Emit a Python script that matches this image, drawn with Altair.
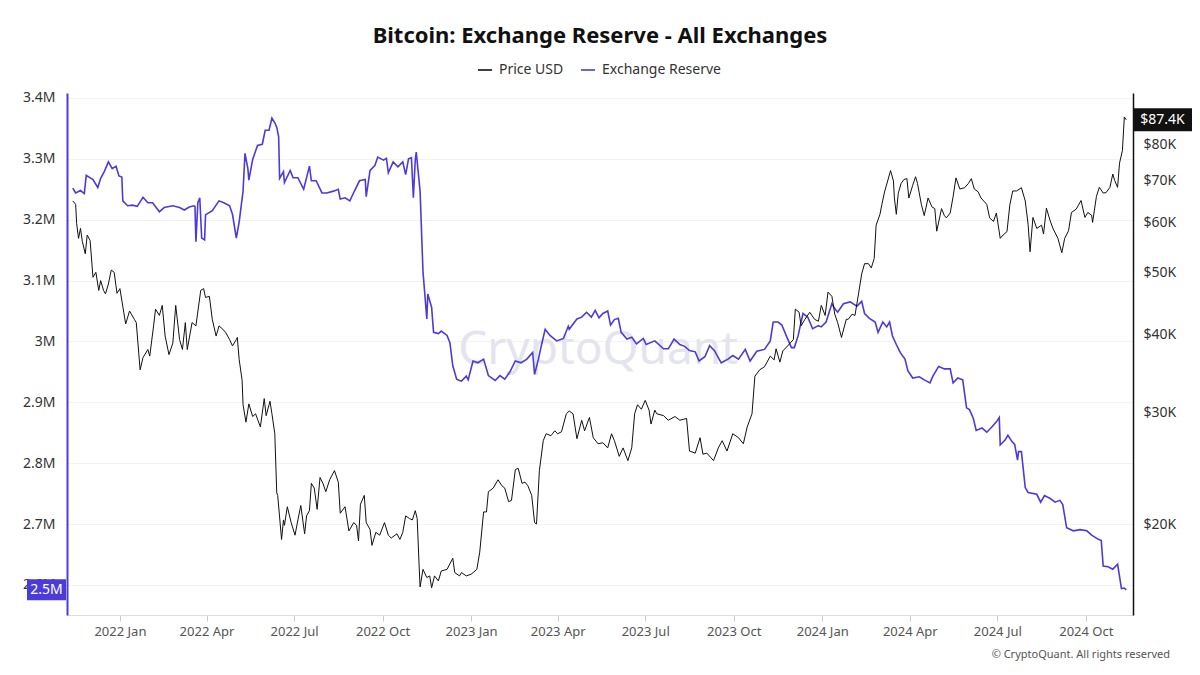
import altair as alt
import pandas as pd

FONT = "Noto Sans"
PURPLE = "#4c3bdb"
BLACK = "#111111"
W, H = 1066, 522

# ---------------- data ----------------
R_DATES = [
    "2021-11-13", "2021-11-16", "2021-11-21", "2021-11-25", "2021-11-27", "2021-12-04", "2021-12-09",
    "2021-12-12", "2021-12-16", "2021-12-20", "2021-12-24", "2021-12-28", "2021-12-31",
    "2022-01-03", "2022-01-04", "2022-01-09", "2022-01-14", "2022-01-19", "2022-01-25", "2022-01-30",
    "2022-02-04", "2022-02-11", "2022-02-16", "2022-02-25", "2022-03-04", "2022-03-09", "2022-03-14",
    "2022-03-19", "2022-03-20", "2022-03-21", "2022-03-23", "2022-03-25", "2022-03-27", "2022-03-30",
    "2022-03-31", "2022-04-07", "2022-04-14", "2022-04-19", "2022-04-25", "2022-04-28", "2022-05-02",
    "2022-05-05", "2022-05-09", "2022-05-11", "2022-05-14", "2022-05-15", "2022-05-19", "2022-05-24",
    "2022-05-29", "2022-06-01", "2022-06-05", "2022-06-08", "2022-06-11", "2022-06-13", "2022-06-15",
    "2022-06-16", "2022-06-20", "2022-06-21", "2022-06-27", "2022-06-30", "2022-07-05", "2022-07-11",
    "2022-07-17", "2022-07-19", "2022-07-24", "2022-07-30", "2022-08-04", "2022-08-11", "2022-08-16",
    "2022-08-18", "2022-08-23", "2022-08-28", "2022-09-02", "2022-09-07", "2022-09-13", "2022-09-14",
    "2022-09-18", "2022-09-23", "2022-09-26", "2022-10-02", "2022-10-05", "2022-10-07", "2022-10-12",
    "2022-10-17", "2022-10-22", "2022-10-25", "2022-10-28", "2022-10-31", "2022-11-02", "2022-11-04",
    "2022-11-05", "2022-11-09", "2022-11-12", "2022-11-16", "2022-11-17", "2022-11-21", "2022-11-23",
    "2022-11-28", "2022-12-01", "2022-12-07", "2022-12-10", "2022-12-13", "2022-12-17", "2022-12-20",
    "2022-12-22", "2022-12-27", "2022-12-29",
    "2023-01-03", "2023-01-08", "2023-01-14", "2023-01-19", "2023-01-26", "2023-01-31", "2023-02-05",
    "2023-02-10", "2023-02-16", "2023-02-22", "2023-02-28", "2023-03-06", "2023-03-08", "2023-03-12",
    "2023-03-15", "2023-03-19", "2023-03-24", "2023-03-31", "2023-04-07", "2023-04-12", "2023-04-13",
    "2023-04-21", "2023-04-26", "2023-05-01", "2023-05-06", "2023-05-10", "2023-05-14", "2023-05-18",
    "2023-05-23", "2023-05-26", "2023-05-30", "2023-06-03", "2023-06-06", "2023-06-12", "2023-06-17",
    "2023-06-22", "2023-06-29", "2023-07-02", "2023-07-11", "2023-07-20", "2023-07-25", "2023-07-31",
    "2023-08-06", "2023-08-11", "2023-08-16", "2023-08-22", "2023-08-26", "2023-09-01", "2023-09-06",
    "2023-09-11", "2023-09-18", "2023-09-25", "2023-09-30", "2023-10-06", "2023-10-13", "2023-10-18",
    "2023-10-25", "2023-11-02", "2023-11-08", "2023-11-11", "2023-11-16", "2023-11-20", "2023-11-25",
    "2023-11-30", "2023-12-03", "2023-12-07", "2023-12-12", "2023-12-17", "2023-12-22", "2023-12-28",
    "2023-12-31",
    "2024-01-05", "2024-01-11", "2024-01-14", "2024-01-17", "2024-01-23", "2024-01-30", "2024-02-06",
    "2024-02-11", "2024-02-14", "2024-02-19", "2024-02-25", "2024-02-28", "2024-03-04", "2024-03-08",
    "2024-03-11", "2024-03-14", "2024-03-18", "2024-03-22", "2024-03-27", "2024-03-30", "2024-04-04",
    "2024-04-11", "2024-04-16", "2024-04-22", "2024-04-25", "2024-05-01", "2024-05-07", "2024-05-13",
    "2024-05-16", "2024-05-21", "2024-05-26", "2024-05-30", "2024-06-02", "2024-06-06", "2024-06-09",
    "2024-06-15", "2024-06-20", "2024-06-25", "2024-06-30", "2024-07-03", "2024-07-04", "2024-07-09",
    "2024-07-12", "2024-07-16", "2024-07-19", "2024-07-22", "2024-07-23", "2024-07-26", "2024-07-30",
    "2024-08-02", "2024-08-11", "2024-08-15", "2024-08-19", "2024-08-25", "2024-08-30", "2024-09-04",
    "2024-09-07", "2024-09-11", "2024-09-18", "2024-09-25", "2024-10-02", "2024-10-07", "2024-10-14",
    "2024-10-17", "2024-10-19", "2024-10-24", "2024-10-29", "2024-11-03", "2024-11-07", "2024-11-10",
    "2024-11-12",
]
# exchange reserve, millions of BTC
R_VALUES = [
    3.252, 3.244, 3.248, 3.243, 3.273, 3.266, 3.253, 3.268, 3.280, 3.295, 3.284, 3.288, 3.272,
    3.270, 3.231, 3.223, 3.224, 3.222, 3.237, 3.228, 3.228, 3.213, 3.220, 3.223, 3.220, 3.216, 3.221,
    3.223, 3.222, 3.164, 3.228, 3.236, 3.170, 3.167, 3.208, 3.215, 3.231, 3.228, 3.223, 3.209, 3.170,
    3.197, 3.247, 3.309, 3.284, 3.265, 3.299, 3.322, 3.324, 3.347, 3.347, 3.367, 3.359, 3.352, 3.336,
    3.268, 3.279, 3.261, 3.281, 3.269, 3.269, 3.250, 3.288, 3.264, 3.264, 3.244, 3.244, 3.247, 3.250,
    3.234, 3.236, 3.231, 3.248, 3.264, 3.266, 3.238, 3.281, 3.289, 3.303, 3.298, 3.301, 3.277, 3.295,
    3.287, 3.295, 3.274, 3.300, 3.302, 3.236, 3.299, 3.311, 3.247, 3.115, 3.037, 3.078, 3.056, 3.015,
    3.013, 3.017, 3.010, 2.998, 2.960, 2.938, 2.936, 2.935, 2.943, 2.937,
    2.968, 2.965, 2.971, 2.944, 2.936, 2.944, 2.938, 2.949, 2.968, 2.965, 2.971, 2.982, 2.946, 2.971,
    2.993, 3.020, 3.010, 3.001, 3.005, 3.025, 3.020, 3.037, 3.040, 3.048, 3.040, 3.051, 3.039, 3.046,
    3.050, 3.027, 3.036, 3.038, 3.015, 3.004, 3.007, 2.996, 3.005, 2.995, 3.001, 2.988, 2.988, 3.004,
    2.995, 2.992, 2.985, 2.983, 2.968, 2.975, 2.993, 2.985, 2.965, 2.971, 2.977, 2.971, 2.987, 2.968,
    2.984, 2.987, 3.001, 3.032, 3.032, 3.027, 3.008, 2.990, 2.990, 3.010, 3.046, 3.040, 3.021, 3.026,
    3.024,
    3.032, 3.062, 3.054, 3.048, 3.062, 3.065, 3.058, 3.066, 3.046, 3.038, 3.032, 3.015, 3.032, 3.024,
    3.032, 3.009, 2.995, 2.982, 2.971, 2.952, 2.940, 2.942, 2.937, 2.932, 2.943, 2.959, 2.955, 2.955,
    2.932, 2.940, 2.937, 2.891, 2.888, 2.874, 2.854, 2.858, 2.851, 2.859, 2.868, 2.875, 2.830, 2.838,
    2.846, 2.836, 2.831, 2.805, 2.819, 2.819, 2.760, 2.752, 2.749, 2.736, 2.747, 2.742, 2.736, 2.739,
    2.732, 2.694, 2.689, 2.691, 2.689, 2.682, 2.675, 2.673, 2.631, 2.630, 2.626, 2.634, 2.594, 2.595,
    2.592,
]

P_DATES = [
    "2021-11-13", "2021-11-16", "2021-11-17", "2021-11-19", "2021-11-21", "2021-11-23", "2021-11-26",
    "2021-11-28", "2021-12-01", "2021-12-04", "2021-12-07", "2021-12-10", "2021-12-12", "2021-12-15",
    "2021-12-17", "2021-12-20", "2021-12-23", "2021-12-26", "2021-12-29",
    "2022-01-01", "2022-01-05", "2022-01-07", "2022-01-11", "2022-01-16", "2022-01-18", "2022-01-22",
    "2022-01-25", "2022-01-30", "2022-02-01", "2022-02-05", "2022-02-07", "2022-02-11", "2022-02-14",
    "2022-02-17", "2022-02-21", "2022-02-25", "2022-02-28", "2022-03-04", "2022-03-07", "2022-03-10",
    "2022-03-12", "2022-03-17", "2022-03-21", "2022-03-26", "2022-03-29", "2022-03-31", "2022-04-04",
    "2022-04-07", "2022-04-11", "2022-04-14", "2022-04-18", "2022-04-21", "2022-04-25", "2022-04-28",
    "2022-05-02", "2022-05-03", "2022-05-05", "2022-05-08", "2022-05-09", "2022-05-12", "2022-05-15",
    "2022-05-19", "2022-05-22", "2022-05-27", "2022-05-31", "2022-06-02", "2022-06-06", "2022-06-08",
    "2022-06-11", "2022-06-13", "2022-06-14", "2022-06-18", "2022-06-20", "2022-06-21", "2022-06-24",
    "2022-06-28", "2022-07-02", "2022-07-05", "2022-07-08", "2022-07-12", "2022-07-14", "2022-07-17",
    "2022-07-19", "2022-07-22", "2022-07-25", "2022-07-28", "2022-07-31", "2022-08-03", "2022-08-07",
    "2022-08-12", "2022-08-16", "2022-08-18", "2022-08-23", "2022-08-27", "2022-09-01", "2022-09-04",
    "2022-09-06", "2022-09-08", "2022-09-12", "2022-09-14", "2022-09-18", "2022-09-20", "2022-09-24",
    "2022-09-28", "2022-10-03", "2022-10-07", "2022-10-10", "2022-10-16", "2022-10-19", "2022-10-22",
    "2022-10-25", "2022-10-29", "2022-11-01", "2022-11-04", "2022-11-06", "2022-11-08", "2022-11-09",
    "2022-11-12", "2022-11-16", "2022-11-19", "2022-11-21", "2022-11-24", "2022-11-28", "2022-12-01",
    "2022-12-07", "2022-12-13", "2022-12-15", "2022-12-20", "2022-12-22", "2022-12-27",
    "2023-01-01", "2023-01-07", "2023-01-10", "2023-01-14", "2023-01-17", "2023-01-19", "2023-01-24",
    "2023-01-29", "2023-02-02", "2023-02-05", "2023-02-09", "2023-02-12", "2023-02-16", "2023-02-19",
    "2023-02-23", "2023-02-26", "2023-03-01", "2023-03-05", "2023-03-08", "2023-03-10", "2023-03-13",
    "2023-03-17", "2023-03-20", "2023-03-25", "2023-03-29", "2023-04-01", "2023-04-05", "2023-04-10",
    "2023-04-13", "2023-04-17", "2023-04-21", "2023-04-26", "2023-04-29", "2023-05-04", "2023-05-08",
    "2023-05-13", "2023-05-18", "2023-05-23", "2023-05-27", "2023-05-30", "2023-06-04", "2023-06-08",
    "2023-06-13", "2023-06-17", "2023-06-20", "2023-06-23", "2023-06-27", "2023-07-01", "2023-07-05",
    "2023-07-07", "2023-07-11", "2023-07-13", "2023-07-20", "2023-07-25", "2023-08-01", "2023-08-06",
    "2023-08-13", "2023-08-16", "2023-08-22", "2023-08-27", "2023-08-30", "2023-09-03", "2023-09-07",
    "2023-09-10", "2023-09-15", "2023-09-19", "2023-09-24", "2023-09-30", "2023-10-06", "2023-10-11",
    "2023-10-15", "2023-10-20", "2023-10-23", "2023-10-28", "2023-11-02", "2023-11-08", "2023-11-12",
    "2023-11-14", "2023-11-18", "2023-11-21", "2023-11-26", "2023-12-02", "2023-12-04", "2023-12-08",
    "2023-12-10", "2023-12-14", "2023-12-19", "2023-12-24", "2023-12-28", "2023-12-31",
    "2024-01-04", "2024-01-07", "2024-01-11", "2024-01-14", "2024-01-17", "2024-01-21", "2024-01-26",
    "2024-01-28", "2024-02-01", "2024-02-04", "2024-02-08", "2024-02-11", "2024-02-14", "2024-02-18",
    "2024-02-21", "2024-02-24", "2024-02-26", "2024-03-01", "2024-03-03", "2024-03-06", "2024-03-09",
    "2024-03-12", "2024-03-15", "2024-03-16", "2024-03-18", "2024-03-20", "2024-03-23", "2024-03-26",
    "2024-03-29", "2024-03-31", "2024-04-04", "2024-04-07", "2024-04-09", "2024-04-13", "2024-04-16",
    "2024-04-20", "2024-04-24", "2024-04-27", "2024-04-29", "2024-05-04", "2024-05-07", "2024-05-09",
    "2024-05-13", "2024-05-16", "2024-05-19", "2024-05-23", "2024-05-28", "2024-06-01", "2024-06-04",
    "2024-06-07", "2024-06-11", "2024-06-14", "2024-06-20", "2024-06-23", "2024-06-27", "2024-06-30",
    "2024-07-04", "2024-07-07", "2024-07-11", "2024-07-14", "2024-07-17", "2024-07-21", "2024-07-26",
    "2024-07-30", "2024-08-02", "2024-08-04", "2024-08-07", "2024-08-11", "2024-08-16", "2024-08-18",
    "2024-08-21", "2024-08-25", "2024-08-28", "2024-09-02", "2024-09-06", "2024-09-09", "2024-09-13",
    "2024-09-16", "2024-09-21", "2024-09-26", "2024-09-30", "2024-10-03", "2024-10-07", "2024-10-08",
    "2024-10-12", "2024-10-15", "2024-10-19", "2024-10-22", "2024-10-26", "2024-10-29", "2024-10-31",
    "2024-11-03", "2024-11-05", "2024-11-08", "2024-11-10", "2024-11-12",
]
# BTC price, thousands of USD
P_VALUES = [
    65.0, 64.2, 59.9, 56.7, 58.8, 56.0, 53.6, 57.4, 56.3, 49.2, 50.1, 46.9, 48.6, 46.9,
    46.3, 48.0, 50.5, 50.1, 46.4,
    47.2, 43.3, 41.5, 43.5, 42.2, 41.7, 35.1, 36.7, 37.8, 36.9, 41.2, 43.8, 42.8, 44.4,
    39.7, 37.1, 38.7, 44.4, 39.2, 37.8, 41.7, 37.8, 41.7, 41.2, 46.9, 47.2, 45.7, 45.9,
    42.2, 39.7, 41.2, 40.7, 40.2, 39.2, 38.3, 39.2, 39.5, 36.4, 33.8, 30.9, 29.0, 31.0,
    29.6, 29.9, 28.5, 31.6, 29.7, 31.3, 29.9, 27.8, 22.4, 22.2, 18.9, 20.3, 19.9, 21.3,
    20.1, 19.2, 20.3, 21.4, 19.3, 20.6, 21.0, 23.2, 22.8, 21.1, 23.7, 23.2, 22.5, 23.5,
    24.3, 23.3, 20.8, 21.3, 19.5, 20.1, 19.9, 18.8, 21.5, 22.2, 20.1, 19.6, 18.5, 19.4,
    19.2, 20.1, 19.2, 19.0, 19.3, 18.9, 19.4, 20.6, 20.4, 20.3, 21.0, 20.4, 17.15, 15.9,
    16.95, 16.45, 16.55, 15.85, 16.55, 16.25, 16.85, 16.95, 17.65, 16.75, 16.55, 16.75, 16.55,
    16.65, 16.95, 18.05, 20.9, 20.9, 22.5, 22.8, 23.5, 23.0, 22.8, 21.7, 21.8, 24.4, 24.5,
    23.2, 23.3, 23.0, 22.2, 20.1, 20.0, 24.3, 27.1, 27.8, 27.6, 28.1, 27.8, 28.0, 29.9,
    30.2, 29.9, 27.3, 29.2, 28.1, 29.5, 27.4, 26.8, 26.9, 26.4, 27.8, 27.1, 25.6, 26.4,
    25.2, 26.4, 29.9, 30.9, 30.4, 31.4, 30.3, 28.8, 30.3, 29.9, 29.7, 29.2, 29.6, 29.2,
    29.4, 26.1, 25.9, 27.4, 25.8, 25.9, 25.5, 25.2, 26.4, 27.1, 26.1, 27.8, 27.4, 26.8,
    28.5, 29.9, 34.3, 35.1, 35.5, 36.9, 36.4, 37.9, 36.1, 37.6, 38.3, 39.2, 43.8, 43.3,
    41.2, 42.2, 43.3, 42.2, 41.9, 44.4,
    42.8, 46.6, 45.9, 43.0, 41.7, 39.5, 42.2, 42.2, 43.0, 42.8, 46.6, 49.8, 51.7, 51.7,
    50.9, 52.7, 59.5, 61.9, 64.2, 67.4, 69.9, 72.6, 69.9, 65.7, 61.9, 66.8, 69.3, 70.3,
    70.5, 65.7, 68.8, 71.0, 69.3, 64.2, 61.6, 65.7, 63.6, 63.2, 58.2, 63.2, 61.6, 61.1,
    62.2, 66.0, 70.7, 67.9, 68.2, 69.3, 70.5, 67.9, 67.2, 65.7, 64.2, 61.1, 60.3, 62.2,
    56.7, 57.4, 58.1, 64.1, 67.4, 67.4, 68.2, 65.0, 59.6, 54.0, 61.2, 58.8, 59.5, 57.6,
    63.3, 60.4, 58.7, 56.7, 53.8, 56.7, 58.3, 62.3, 63.1, 65.1, 61.2, 62.3, 61.7, 60.1,
    66.1, 68.3, 66.9, 67.0, 68.3, 71.7, 70.0, 68.3, 74.6, 78.1, 88.3, 87.4,
]

SERIES = ["Price USD", "Exchange Reserve"]
RES_TICKS = [2600000, 2700000, 2800000, 2900000, 3000000, 3100000, 3200000, 3300000, 3400000]
PRICE_TICKS = [20000, 30000, 40000, 50000, 60000, 70000, 80000]
X_TICKS = [(2022, 1), (2022, 4), (2022, 7), (2022, 10), (2023, 1), (2023, 4), (2023, 7),
           (2023, 10), (2024, 1), (2024, 4), (2024, 7), (2024, 10)]
TITLE = "Bitcoin: Exchange Reserve - All Exchanges"
WATERMARK = "CryptoQuant"
FOOTER = "© CryptoQuant. All rights reserved"

# ---------------- frames ----------------
res_df = pd.DataFrame({"date": R_DATES, "reserve": [v * 1e6 for v in R_VALUES], "series": SERIES[1]})
price_df = pd.DataFrame({"date": P_DATES, "price": [v * 1e3 for v in P_VALUES], "series": SERIES[0]})

res_last = res_df.tail(1).copy()
res_last["label"] = [f"{int(v // 1e5) / 10}M" for v in res_last["reserve"]]
price_last = price_df.tail(1).copy()
price_last["label"] = [f"${v / 1000:.1f}K" for v in price_last["price"]]

# ---------------- scales ----------------
x_scale = alt.Scale(
    type="utc",
    domain=[alt.DateTime(year=2021, month=11, date=7, utc=True),
            alt.DateTime(year=2024, month=11, date=19, utc=True)],
)
x_vals = [alt.DateTime(year=y, month=m, date=1, utc=True) for y, m in X_TICKS]
RES_DOMAIN = [2550700, 3408200]
PRICE_DOMAIN = [14350, 96360]
color_scale = alt.Scale(domain=SERIES, range=[BLACK, PURPLE])


def res_scale():
    return alt.Scale(domain=RES_DOMAIN, nice=False, zero=False)


def price_scale():
    return alt.Scale(type="log", domain=PRICE_DOMAIN, nice=False)


def x_axis():
    return alt.Axis(
        values=x_vals, format="%Y %b", title=None, grid=False,
        domainColor="#dddddd", tickColor="#cccccc", tickSize=6, labelFontSize=13,
        labelColor="#555555", labelFont=FONT, labelPadding=4,
    )


legend = alt.Legend(
    orient="none", legendX=410, legendY=-31, direction="horizontal", title=None,
    symbolType="stroke", symbolSize=200, symbolStrokeWidth=1.6, labelFontSize=14,
    labelColor="#333333", labelFont=FONT, columnPadding=13, labelOffset=6,
)

# ---------------- reserve ----------------
res_line = alt.Chart(res_df).mark_line(strokeWidth=1.6).encode(
    x=alt.X("date:T", scale=x_scale, axis=x_axis()),
    y=alt.Y("reserve:Q", scale=res_scale(), axis=alt.Axis(
        orient="left", values=RES_TICKS, labelExpr="datum.value / 1000000 + 'M'",
        title=None, grid=True, gridColor="#f2f2f2", domainColor=PURPLE, domainWidth=2,
        ticks=False, labelFontSize=14, labelColor="#333333", labelFont=FONT, labelPadding=12,
    )),
    color=alt.Color("series:N", scale=color_scale, legend=legend),
)
res_box = alt.Chart(res_last).mark_tick(
    orient="horizontal", size=39, thickness=21, color=PURPLE, opacity=1
).encode(
    x=alt.value(-20.5),
    y=alt.Y("reserve:Q", scale=res_scale(), axis=None),
)
res_text = alt.Chart(res_last).mark_text(color="white", fontSize=14, font=FONT).encode(
    x=alt.value(-20.5),
    y=alt.Y("reserve:Q", scale=res_scale(), axis=None),
    text="label:N",
)

# ---------------- price ----------------
price_line = alt.Chart(price_df).mark_line(strokeWidth=1).encode(
    x=alt.X("date:T", scale=x_scale, axis=x_axis()),
    y=alt.Y("price:Q", scale=price_scale(), axis=alt.Axis(
        orient="right", values=PRICE_TICKS, labelExpr="'$' + datum.value / 1000 + 'K'",
        title=None, grid=False, domainColor=BLACK, domainWidth=1.5, ticks=False,
        labelFontSize=14, labelColor="#333333", labelFont=FONT, labelPadding=10,
    )),
    color=alt.Color("series:N", scale=color_scale, legend=legend),
)
price_box = alt.Chart(price_last).mark_tick(
    orient="horizontal", size=59, thickness=23, color=BLACK, opacity=1
).encode(
    x=alt.value(W + 29.5),
    y=alt.Y("price:Q", scale=price_scale(), axis=None),
)
price_text = alt.Chart(price_last).mark_text(color="white", fontSize=14, font=FONT).encode(
    x=alt.value(W + 29.5),
    y=alt.Y("price:Q", scale=price_scale(), axis=None),
    text="label:N",
)

# ---------------- decorations ----------------
wm = alt.Chart(pd.DataFrame({"t": [WATERMARK]})).mark_text(
    fontSize=46, color="#e4e4ee", font=FONT
).encode(x=alt.value(W / 2 - 2), y=alt.value(257), text="t:N")

footer = alt.Chart(pd.DataFrame({"t": [FOOTER]})).mark_text(
    fontSize=11, color="#555555", font=FONT, align="right"
).encode(x=alt.value(W + 37), y=alt.value(H + 40), text="t:N")

chart = alt.layer(
    wm, res_line, price_line, res_box, res_text, price_box, price_text, footer
).resolve_scale(
    y="independent"
).properties(
    width=W, height=H,
    padding={"left": 59, "top": 85, "right": 59, "bottom": 50},
    autosize=alt.AutoSizeParams(type="none"),
    title=alt.TitleParams(
        text=TITLE, fontSize=22, fontWeight="bold", color=BLACK, anchor="middle",
        frame="group", offset=14, font=FONT,
    ),
).configure(font=FONT).configure_view(stroke=None)

chart.save("out.html", embed_options={"renderer": "svg", "actions": False})
